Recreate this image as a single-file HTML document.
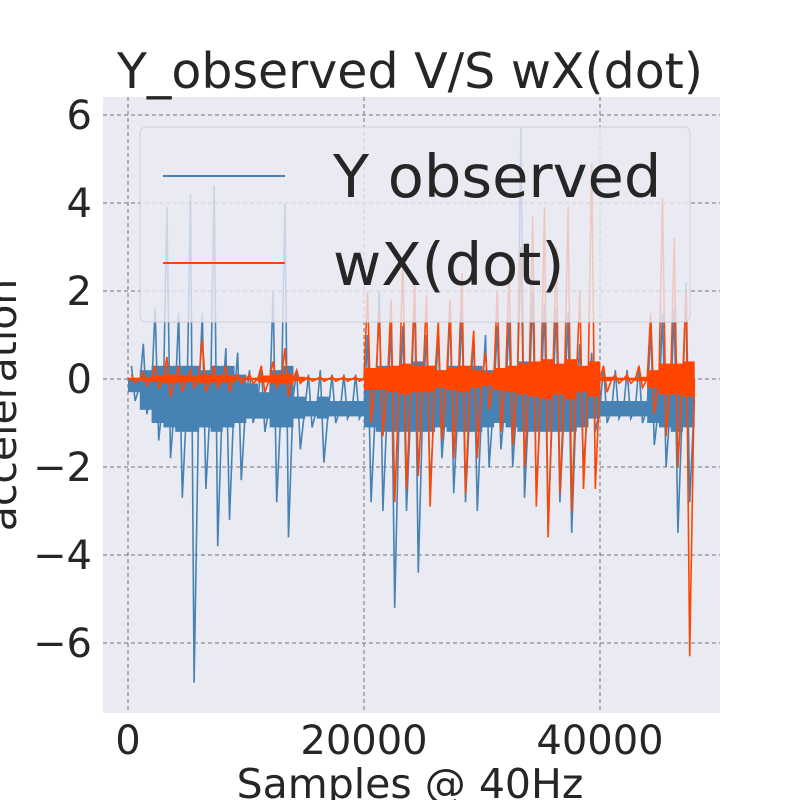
<!DOCTYPE html>
<html><head><meta charset="utf-8"><style>
body{margin:0;background:#fff}
text{font-family:"DejaVu Sans","Liberation Sans",sans-serif;fill:#262626}
</style></head><body>
<svg id="chart" width="800" height="800" viewBox="0 0 800 800" xmlns="http://www.w3.org/2000/svg">
<defs><clipPath id="pc"><rect x="103" y="97" width="617" height="616"/></clipPath></defs>
<rect x="103" y="97" width="617" height="616" fill="#eaeaf2"/>
<g id="grid"></g>
<g id="series" clip-path="url(#pc)"></g>
<g id="ticks"></g>
<text x="410" y="88" font-size="49" text-anchor="middle">Y_observed V/S wX(dot)</text>
<text x="410" y="798" font-size="41" text-anchor="middle">Samples @ 40Hz</text>
<text transform="translate(16,405) rotate(-90)" font-size="41" text-anchor="middle">acceleration</text>
<g>
<rect x="140" y="127" width="550" height="195" rx="6" fill="#eaeaf2" fill-opacity="0.8" stroke="#d0d0d8"/>
<line x1="163" y1="176" x2="285" y2="176" stroke="#4682b4" stroke-width="2"/>
<text x="333" y="197" font-size="59">Y observed</text>
<line x1="163" y1="263" x2="285" y2="263" stroke="#ff4500" stroke-width="2"/>
<text x="333" y="285" font-size="59">wX(dot)</text>
</g>
</svg>
<script>
const binSize = 1000;
const blueHi = [0.3,0.8,1.6,3.9,1.5,4.2,1.5,4.4,0.7,0.6,0.2,0.3,2.0,4.0,0.2,0.1,0.2,0.1,0.1,0.1,1.0,2.0,1.3,1.2,2.0,1.0,1.0,1.6,1.5,1.0,1.0,1.2,1.3,5.7,2.0,1.7,1.6,1.5,0.8,0.6,0.3,0.2,0.2,0.3,1.2,1.5,1.6,2.2];
const blueLo = [-0.5,-0.8,-1.4,-1.8,-2.7,-6.9,-2.5,-3.8,-3.2,-2.3,-1.0,-1.2,-2.8,-3.6,-1.6,-1.1,-1.9,-1.0,-0.9,-0.9,-2.8,-3.0,-5.2,-3.0,-4.4,-2.5,-1.8,-2.6,-2.8,-3.0,-2.0,-1.6,-2.0,-2.7,-2.6,-3.4,-2.8,-3.5,-2.0,-1.2,-1.0,-0.9,-0.9,-1.0,-1.5,-2.0,-3.5,-2.8];
const blueCoreHi = [0.0,0.2,0.3,0.3,0.3,0.3,0.2,0.3,0.3,0.1,-0.1,-0.3,0.2,0.3,-0.4,-0.5,-0.4,-0.5,-0.5,-0.5,0.2,0.3,0.3,0.3,0.4,0.3,0.2,0.3,0.3,0.3,0.2,0.2,0.3,0.4,0.3,0.3,0.3,0.3,0.1,-0.4,-0.5,-0.5,-0.5,-0.5,-0.1,0.2,0.3,0.2];
const blueCoreLo = [-0.3,-0.7,-1.0,-1.1,-1.2,-1.2,-1.1,-1.2,-1.1,-1.0,-0.9,-0.9,-1.1,-1.1,-0.9,-0.85,-0.9,-0.85,-0.85,-0.85,-1.1,-1.2,-1.2,-1.2,-1.2,-1.2,-1.1,-1.2,-1.2,-1.2,-1.1,-1.0,-1.1,-1.2,-1.2,-1.2,-1.2,-1.2,-1.1,-0.9,-0.85,-0.85,-0.85,-0.85,-1.0,-1.1,-1.2,-1.1];
const redHi = [0.1,0.15,0.3,0.5,0.3,0.2,0.9,0.3,0.3,0.1,0.1,0.3,0.4,0.7,0.2,0.05,0.05,0.05,0.05,0.05,2.0,1.5,1.8,2.7,2.2,1.9,1.3,1.8,2.4,1.1,0.6,2.0,2.5,3.0,3.7,3.9,3.0,3.9,2.0,4.9,0.3,0.1,0.1,0.3,1.5,4.1,3.2,2.0];
const redLo = [-0.1,-0.15,-0.2,-0.4,-0.3,-0.2,-0.3,-0.2,-0.3,-0.1,-0.1,-0.3,-0.2,-0.4,-0.1,-0.05,-0.05,-0.05,-0.05,-0.05,-1.0,-1.3,-2.8,-2.5,-2.2,-2.9,-1.4,-1.8,-2.6,-1.8,-0.7,-1.2,-1.5,-2.0,-2.9,-3.6,-2.6,-3.0,-2.5,-2.5,-0.3,-0.1,-0.1,-0.2,-0.8,-1.3,-2.0,-6.3];
const redCore = [0.03,0.05,0.07,0.1,0.08,0.06,0.1,0.08,0.08,0.03,0.03,0.08,0.1,0.12,0.05,0.02,0.02,0.02,0.02,0.02,0.25,0.25,0.3,0.35,0.3,0.3,0.2,0.25,0.3,0.2,0.15,0.25,0.3,0.35,0.4,0.45,0.35,0.45,0.3,0.4,0.05,0.03,0.03,0.05,0.2,0.35,0.35,0.4];
const xTicks = [0,20000,40000];
const xTickLabels = ["0","20000","40000"];
const yTicks = [6,4,2,0,-2,-4,-6];
const yTickLabels = ["6","4","2","0","\u22122","\u22124","\u22126"];

const NS="http://www.w3.org/2000/svg";
const xs = v => 128 + v*0.0118;
const ys = v => 379 - v*44;
function mk(tag, parent){const e=document.createElementNS(NS,tag);parent.appendChild(e);return e;}
const grid=document.getElementById('grid'), ser=document.getElementById('series'), tk=document.getElementById('ticks');
xTicks.forEach((t,i)=>{
  const l=mk('line',grid);
  
  
  l.setAttribute('x1',xs(t));l.setAttribute('x2',xs(t));l.setAttribute('y1',97);l.setAttribute('y2',713);
  l.setAttribute('stroke','#777');l.setAttribute('stroke-dasharray','4,3');l.setAttribute('stroke-width','1');
  const tx=mk('text',tk);
  
  
  tx.setAttribute('x',xs(t));tx.setAttribute('y',754);tx.setAttribute('font-size','40');tx.setAttribute('text-anchor','middle');
  tx.textContent=xTickLabels[i];
});
yTicks.forEach((t,i)=>{
  const l=mk('line',grid);
  
  
  l.setAttribute('x1',103);l.setAttribute('x2',720);l.setAttribute('y1',ys(t));l.setAttribute('y2',ys(t));
  l.setAttribute('stroke','#777');l.setAttribute('stroke-dasharray','4,3');l.setAttribute('stroke-width','1');
  const tx=mk('text',tk);
  
  
  tx.setAttribute('x',92);tx.setAttribute('y',ys(t)+14);tx.setAttribute('font-size','40');tx.setAttribute('text-anchor','end');
  tx.textContent=yTickLabels[i];
});
function drawSeries(name,hi,lo,cHi,cLo,color){
  const g=mk('g',ser);
  
  
  let pts=[];
  hi.forEach((h,i)=>{
    const x0=xs(i*binSize), x1=xs((i+1)*binSize);
    const r=mk('rect',g);
    
    
    const top=ys(cHi[i]), bot=ys(cLo[i]);
    r.setAttribute('x',x0);r.setAttribute('width',x1-x0+0.3);r.setAttribute('y',top);r.setAttribute('height',Math.max(1.5,bot-top));
    r.setAttribute('fill',color);
    pts.push([x0+(x1-x0)*0.3,ys(h)]);
    pts.push([x0+(x1-x0)*0.6,ys(lo[i])]);
    pts.push([x1,ys((cHi[i]+cLo[i])/2)]);
  });
  const p=mk('polyline',g);
  
  
  p.setAttribute('points',pts.map(q=>q[0].toFixed(1)+','+q[1].toFixed(1)).join(' '));
  p.setAttribute('fill','none');p.setAttribute('stroke',color);p.setAttribute('stroke-width','1.6');
}
drawSeries('y-observed-series',blueHi,blueLo,blueCoreHi,blueCoreLo,'#4682b4');
drawSeries('wx-dot-series',redHi,redLo,redCore,redCore.map(v=>-v),'#ff4500');
</script>
</body></html>
